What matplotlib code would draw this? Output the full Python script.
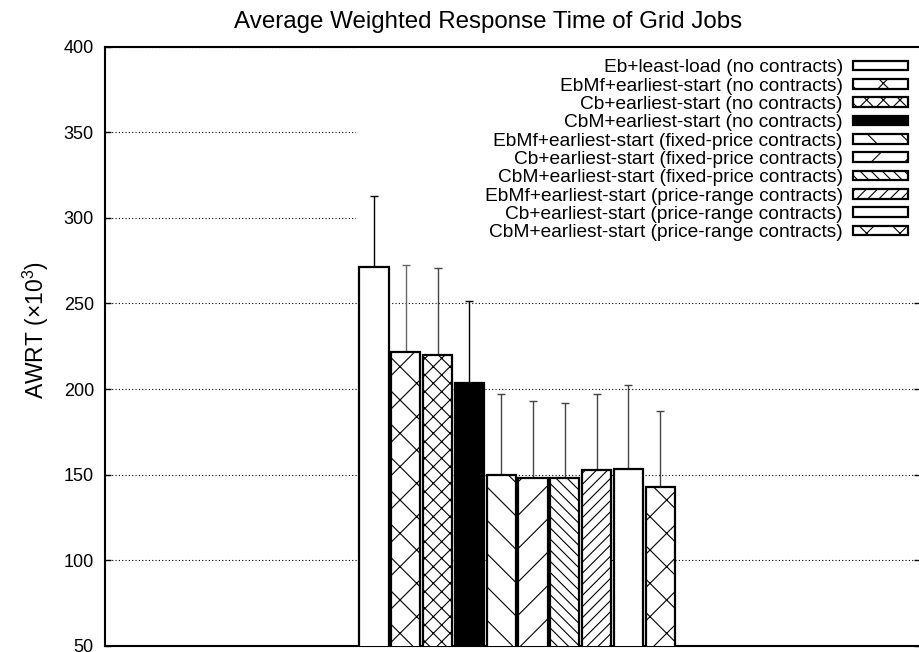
import numpy as np
import matplotlib
matplotlib.use("Agg")
import matplotlib.pyplot as plt
from matplotlib.patches import Rectangle

plt.rcParams['font.family'] = ['Liberation Sans', 'DejaVu Sans']
plt.rcParams['mathtext.fontset'] = 'custom'
plt.rcParams['mathtext.rm'] = 'Liberation Sans'
plt.rcParams['hatch.linewidth'] = 0.8

labels = ["Eb+least-load (no contracts)",
          "EbMf+earliest-start (no contracts)",
          "Cb+earliest-start (no contracts)",
          "CbM+earliest-start (no contracts)",
          "EbMf+earliest-start (fixed-price contracts)",
          "Cb+earliest-start (fixed-price contracts)",
          "CbM+earliest-start (fixed-price contracts)",
          "EbMf+earliest-start (price-range contracts)",
          "Cb+earliest-start (price-range contracts)",
          "CbM+earliest-start (price-range contracts)"]
awrt = [271.5, 221.5, 220.0, 203.5, 150.0, 148.0, 148.0, 152.5, 153.5, 143.0]
awrt_err = [41.5, 51.0, 50.5, 48.0, 47.0, 45.0, 44.0, 44.5, 49.0, 44.0]
yticks = [50, 100, 150, 200, 250, 300, 350, 400]

hatches = ['', 'x', 'xx', '', '\\', '/', '\\\\\\', '///', '', 'x']
fills = ['white', 'white', 'white', 'black', 'white', 'white', 'white', 'white', 'white', 'white']
errcol = ['black', '#666666', '#444444', 'black', '#444444', '#444444', '#444444', '#444444', '#444444', '#444444']

fig = plt.figure(figsize=(9.2, 6.52), dpi=100)
ax = fig.add_axes([105/920, 6/652, 815/920, 599.5/652])

x = np.arange(len(awrt))
for i in range(len(awrt)):
    ax.errorbar(x[i], awrt[i], yerr=[[0], [awrt_err[i]]], fmt='none',
                ecolor=errcol[i], elinewidth=1.0, capsize=3.2, capthick=1.0, zorder=2)
    ax.bar(x[i], awrt[i], width=0.915, color=fills[i], edgecolor='black',
           linewidth=1.6, hatch=hatches[i], label=labels[i], zorder=3)

ax.set_xlim(-8.46, 17.17)
ax.set_ylim(50, 400)
ax.set_yticks(yticks)
ax.set_xticks([])
ax.tick_params(axis='y', direction='in', length=4.5, width=1.0, labelsize=13,
               right=True, pad=8)
ax.yaxis.grid(True, linestyle=(0, (1, 2)), color='black', linewidth=0.8)
ax.set_axisbelow(True)
ax.spines['right'].set_visible(False)
for s in ['left', 'top', 'bottom']:
    ax.spines[s].set_linewidth(1.5)

# opaque key area
ax.add_patch(Rectangle((0.308, 0.668), 0.692, 0.332, transform=ax.transAxes,
                       facecolor='white', edgecolor='none', zorder=1))

leg = ax.legend(loc='upper right', bbox_to_anchor=(0.99, 0.985), frameon=False,
                markerfirst=False, fontsize=13.8, handlelength=2.85, handleheight=0.4,
                handletextpad=0.55, labelspacing=0.07, borderpad=0.2, borderaxespad=0)

fig.text(488/920, 1 - 22/652, "Average Weighted Response Time of Grid Jobs",
         ha='center', va='center', fontsize=17.4)
fig.text(36/920, 1 - 330/652, "AWRT (\u00d710$^{3}$)", rotation=90,
         ha='center', va='center', fontsize=16.5)

plt.savefig("out.png", dpi=100)
